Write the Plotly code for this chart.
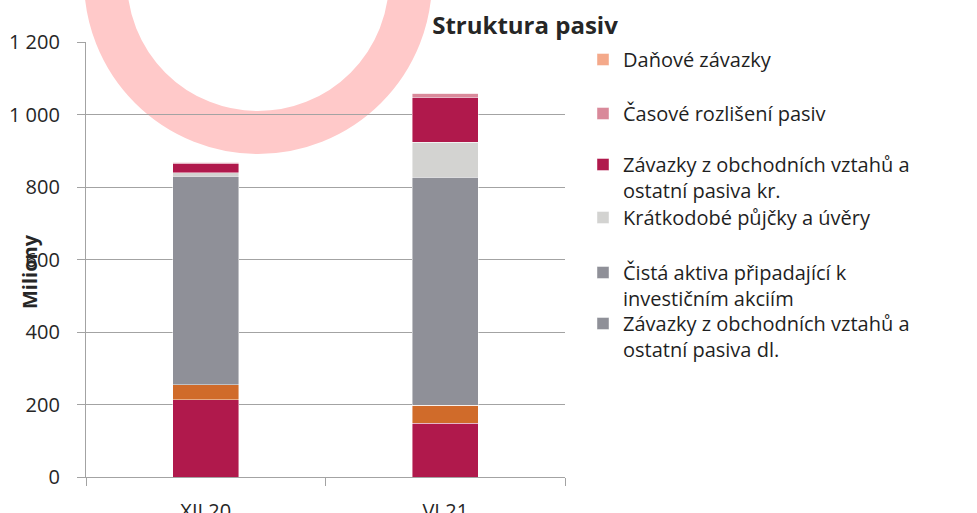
import plotly.graph_objects as go

# ---- data (in millions) ----
categories = ["XII.20", "VI.21"]
vlastni_kapital = [213, 148]          # bottom crimson segment (entry not visible in legend)
rezervy = [41, 50]                    # orange segment (entry not visible in legend)
zavazky_dl = [0, 0]
cista_aktiva = [576, 629]
kratkodobe_pujcky = [9, 96]
zavazky_kr = [26, 125]
casove_rozliseni = [3, 11]
danove_zavazky = [0, 0]

y_tick_vals = [0, 200, 400, 600, 800, 1000, 1200]
y_tick_text = ["0", "200", "400", "600", "800", "1 000", "1 200"]

# ---- layout geometry (page pixels; body margin removed below) ----
W, H = 977, 513
PLOT_L, PLOT_R, PLOT_T, PLOT_B = 86, 565, 42, 477
L, T, R, B = PLOT_L, PLOT_T, W - PLOT_R, H - PLOT_B
PW, PH = W - L - R, H - T - B

def px_x(px):
    return (px - PLOT_L) / PW

def px_y(py):
    return (PLOT_B - py) / PH

FONT = "Open Sans"
TXT = "#262626"
GRID = "#A3A3A3"

fig = go.Figure()

series = [
    ("Vlastní kapitál", vlastni_kapital, "#B0194C", None),
    ("Rezervy", rezervy, "#D06B2A", None),
    ("Závazky z obchodních vztahů a<br>ostatní pasiva dl.", zavazky_dl, "#8F9098", "legend6"),
    ("Čistá aktiva připadající k<br>investičním akciím", cista_aktiva, "#8F9098", "legend5"),
    ("Krátkodobé půjčky a úvěry", kratkodobe_pujcky, "#D3D3D1", "legend4"),
    ("Závazky z obchodních vztahů a<br>ostatní pasiva kr.", zavazky_kr, "#B0194C", "legend3"),
    ("Časové rozlišení pasiv", casove_rozliseni, "#D9899A", "legend2"),
    ("Daňové závazky", danove_zavazky, "#F4A98A", "legend"),
]

for name, vals, color, lg in series:
    fig.add_trace(go.Bar(
        x=categories, y=vals, name=name,
        marker=dict(color=color, line=dict(color="rgba(255,255,255,0.55)", width=0.8)),
        showlegend=lg is not None,
        legend=lg if lg else "legend",
    ))

# legend entries: first-line centre y in page pixels
legend_centres = {"legend": 59, "legend2": 113, "legend3": 164,
                  "legend4": 217, "legend5": 272, "legend6": 323}
legend_layout = {}
for key, cy in legend_centres.items():
    legend_layout[key] = dict(
        x=px_x(583), xanchor="left",
        y=px_y(cy - 19), yanchor="top",
        valign="top",
        bgcolor="rgba(0,0,0,0)", borderwidth=0,
        font=dict(family=FONT, size=20, color="#1F1F1F"),
        itemclick=False, itemdoubleclick=False,
    )

fig.update_layout(
    width=W, height=H,
    margin=dict(l=L, r=R, t=T, b=B, autoexpand=False),
    paper_bgcolor="white",
    plot_bgcolor="rgba(0,0,0,0)",
    barmode="stack",
    bargap=0.724,
    font=dict(family=FONT, size=20, color=TXT),
    title=dict(
        text="<b>Struktura pasiv</b>",
        x=525 / W, xanchor="center",
        y=1 - 26 / H, yanchor="middle",
        font=dict(family=FONT, size=24, color=TXT),
    ),
    xaxis=dict(
        showline=True, linecolor=GRID, linewidth=1.3,
        ticks="outside", tickson="boundaries", ticklen=8, tickcolor=GRID, tickwidth=1.3,
        showgrid=False, automargin=False,
        tickfont=dict(family=FONT, size=20, color=TXT),
        ticklabelstandoff=16,
    ),
    yaxis=dict(
        range=[0, 1200],
        tickvals=y_tick_vals, ticktext=y_tick_text,
        showline=True, linecolor=GRID, linewidth=1.3,
        ticks="outside", ticklen=8, tickcolor=GRID, tickwidth=1.3,
        showgrid=True, gridcolor=GRID, gridwidth=1.3,
        zeroline=False, automargin=False,
        tickfont=dict(family=FONT, size=20, color=TXT),
        ticklabelstandoff=13,
    ),
    annotations=[dict(
        text="<b>Miliony</b>", textangle=-90,
        xref="paper", yref="paper",
        x=px_x(29), y=px_y(272), xanchor="center", yanchor="middle",
        showarrow=False, font=dict(family=FONT, size=20, color=TXT),
    )],
    shapes=[dict(
        type="circle", xref="paper", yref="paper", layer="below",
        x0=px_x(258 - 152.5), x1=px_x(258 + 152.5),
        y0=px_y(-20 + 152.5), y1=px_y(-20 - 152.5),
        line=dict(color="#FFC9C9", width=43),
        fillcolor="rgba(0,0,0,0)",
    )],
    **legend_layout,
)

fig.write_html(
    "out.html",
    config={"displayModeBar": False},
    post_script="document.body.style.margin='0';document.body.style.overflow='hidden';",
)
